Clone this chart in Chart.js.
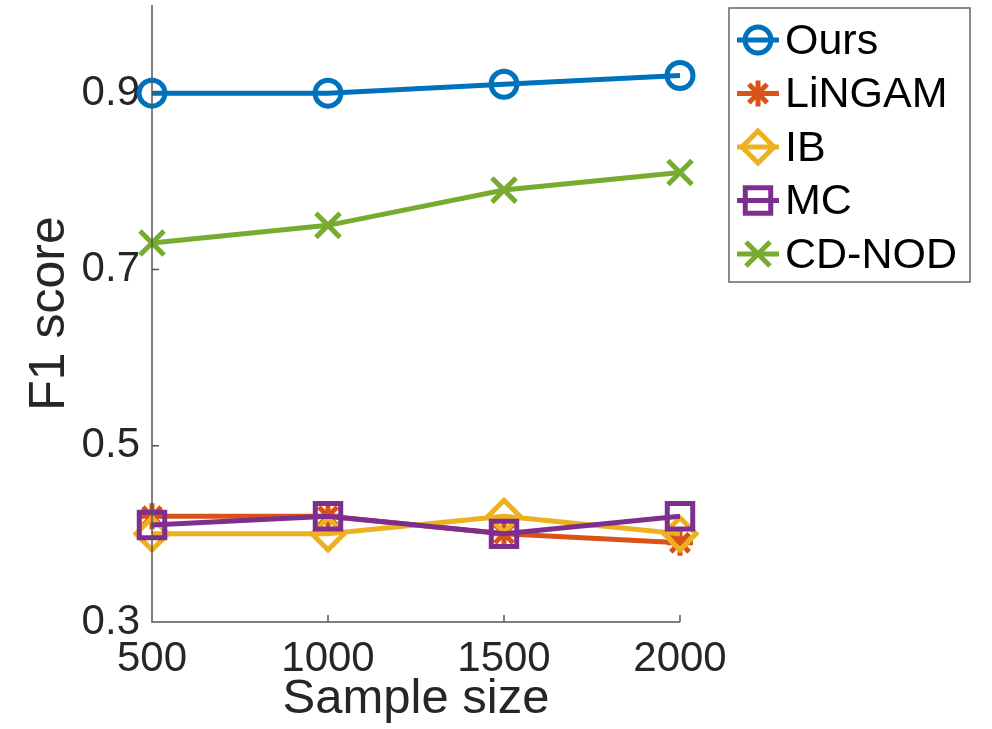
<!DOCTYPE html>
<html>
<head>
<meta charset="utf-8">
<script src="https://cdn.jsdelivr.net/npm/chart.js@4.4.1/dist/chart.umd.min.js"></script>
<style>
  html, body { margin: 0; padding: 0; background: #fff; }
  #wrap { width: 992px; height: 729px; }
</style>
</head>
<body>
<div id="wrap"><canvas id="grafica" width="992" height="729"></canvas></div>
<script>
// datos
const sampleSizes = [500, 1000, 1500, 2000];
const yTicks = [0.3, 0.5, 0.7, 0.9];
const nombres = ['Ours', 'LiNGAM', 'IB', 'MC', 'CD-NOD'];
const ours = [0.90, 0.90, 0.91, 0.92];
const lingam = [0.42, 0.42, 0.40, 0.39];
const ib = [0.40, 0.40, 0.42, 0.40];
const mc = [0.41, 0.42, 0.40, 0.42];
const cdnod = [0.73, 0.75, 0.79, 0.81];

const colores = ['#0072BD', '#D95319', '#EDB120', '#7E2F8E', '#77AC30'];
const marcas = ['circle', 'star', 'rectRot', 'rect', 'crossRot'];
const radios = [13, 13, 16, 18, 17];
const series = [ours, lingam, ib, mc, cdnod];

const fuente = '"Liberation Sans", Arial, Helvetica, sans-serif';

const datasets = [];
for (var i in series) {
    datasets.push({
        label: nombres[i],
        data: series[i].map((v, j) => ({ x: sampleSizes[j], y: v })),
        borderColor: colores[i],
        backgroundColor: 'rgba(0,0,0,0)',
        pointBorderColor: colores[i],
        pointBackgroundColor: 'rgba(0,0,0,0)',
        pointStyle: marcas[i],
        pointRadius: radios[i],
        pointBorderWidth: 5,
        borderWidth: 5,
        clip: false,
        order: 10 - i
    });
}

// marcas de los ejes hacia adentro y leyenda tipo matlab
const extras = {
    id: 'extras',
    afterDraw(chart) {
        const ctx = chart.ctx;
        const a = chart.chartArea;
        const xs = chart.scales.x, ys = chart.scales.y;
        ctx.save();
        ctx.strokeStyle = '#555';
        ctx.lineWidth = 1.5;
        ctx.beginPath();
        ctx.moveTo(a.left, a.top);
        ctx.lineTo(a.left, a.bottom);
        ctx.lineTo(a.right, a.bottom);
        yTicks.forEach(v => {
            const y = ys.getPixelForValue(v);
            ctx.moveTo(a.left, y);
            ctx.lineTo(a.left + 7, y);
        });
        sampleSizes.forEach(v => {
            const x = xs.getPixelForValue(v);
            ctx.moveTo(x, a.bottom);
            ctx.lineTo(x, a.bottom - 7);
        });
        ctx.stroke();

        // leyenda
        const lx = 729, ly = 8, lw = 241, lh = 274;
        ctx.fillStyle = '#fff';
        ctx.fillRect(lx, ly, lw, lh);
        ctx.strokeStyle = '#666';
        ctx.lineWidth = 1.5;
        ctx.strokeRect(lx, ly, lw, lh);
        chart.data.datasets.forEach((ds, k) => {
            const cy = 40 + k * 53.5;
            ctx.strokeStyle = ds.borderColor;
            ctx.lineWidth = 5;
            ctx.beginPath();
            ctx.moveTo(737, cy);
            ctx.lineTo(779, cy);
            ctx.stroke();
            ctx.fillStyle = 'rgba(0,0,0,0)';
            ctx.strokeStyle = ds.borderColor;
            ctx.lineWidth = 5;
            Chart.helpers.drawPoint(ctx, {
                pointStyle: ds.pointStyle,
                radius: ds.pointRadius,
                borderWidth: 5,
                rotation: 0
            }, 758, cy);
            ctx.fillStyle = '#000';
            ctx.font = '43px ' + fuente;
            ctx.textBaseline = 'middle';
            ctx.textAlign = 'left';
            ctx.fillText(ds.label, 785, cy + 2);
        });
        ctx.restore();
    }
};

new Chart(document.getElementById('grafica'), {
    type: 'line',
    data: { datasets: datasets },
    plugins: [extras],
    options: {
        responsive: false,
        animation: false,
        layout: { autoPadding: false, padding: { top: 5, right: 312, left: 0, bottom: 0 } },
        plugins: { legend: { display: false }, tooltip: { enabled: false } },
        scales: {
            x: {
                type: 'linear',
                min: 500,
                max: 2000,
                afterBuildTicks: s => { s.ticks = sampleSizes.map(v => ({ value: v })); },
                afterFit: s => { s.height = 107; s.paddingLeft = 0; s.paddingRight = 0; },
                grid: { display: false, drawTicks: false },
                border: { display: false },
                ticks: {
                    color: '#262626',
                    font: { family: fuente, size: 42 },
                    padding: 12,
                    maxRotation: 0,
                    autoSkip: false,
                    callback: v => String(v)
                },
                title: {
                    display: true,
                    text: 'Sample size',
                    color: '#262626',
                    font: { family: fuente, size: 49 },
                    padding: { top: -10, bottom: 0 }
                }
            },
            y: {
                min: 0.3,
                max: 1.0,
                afterBuildTicks: s => { s.ticks = yTicks.map(v => ({ value: v })); },
                afterFit: s => { s.width = 152; s.paddingTop = 0; s.paddingBottom = 0; },
                grid: { display: false, drawTicks: false },
                border: { display: false },
                ticks: {
                    color: '#262626',
                    font: { family: fuente, size: 42, lineHeight: 0.2 },
                    padding: 12,
                    callback: v => v.toFixed(1)
                },
                title: {
                    display: true,
                    text: 'F1 score',
                    color: '#262626',
                    font: { family: fuente, size: 50 },
                    padding: { top: 20, bottom: 8 }
                }
            }
        }
    }
});
</script>
</body>
</html>
